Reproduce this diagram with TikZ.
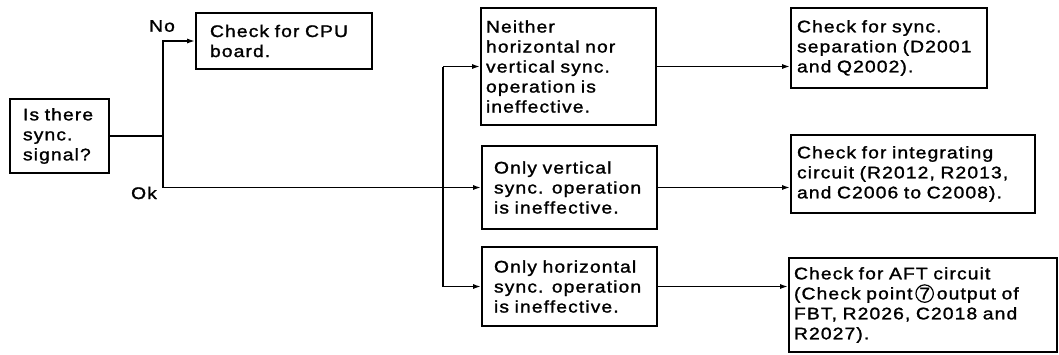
\documentclass[tikz,border=0pt]{standalone}
\usepackage{fontspec}
\setmainfont{Liberation Sans}[FakeStretch=1.15, LetterSpace=6.5, FakeBold=1.4]
\usetikzlibrary{arrows.meta}

% small circled figure used inside a text line
\newcommand{\circfig}[1]{\tikz[baseline=(cf.base)]\node[draw,circle,line width=1.2pt,inner sep=0.6pt,minimum size=17pt] (cf) {#1};}

\tikzset{
  flowbox/.style={draw, line width=1.6pt, align=left, inner ysep=1pt,
    font=\fontsize{16.8}{20}\selectfont},
  lbl/.style={font=\fontsize{16.8}{20}\selectfont, inner sep=0pt},
  link/.style={line width=1.6pt},
  arr/.style={line width=1.6pt, -{Latex[length=8pt,width=5pt]}},
}

\begin{document}
\begin{tikzpicture}[x=1pt,y=-1pt]
\useasboundingbox (0,0) rectangle (1059,354);

% question box
\node[flowbox, minimum width=99pt, minimum height=74pt, inner xsep=13pt, text width=73pt]
  (q) at (59.5,136) {Is there\\sync.\\signal?};

% "No" branch
\node[flowbox, minimum width=176pt, minimum height=56pt, inner xsep=14pt, text width=148pt]
  (cpu) at (284,41) {Check for CPU\\board.};

% symptom boxes
\node[flowbox, minimum width=175pt, minimum height=117pt, inner xsep=5pt, text width=165pt]
  (b1) at (568.5,66.5) {Neither\\horizontal nor\\vertical sync.\\operation is\\ineffective.};
\node[flowbox, minimum width=175pt, minimum height=83pt, inner xsep=12pt, text width=151pt]
  (b2) at (569.5,187.5) {Only vertical\\sync. operation\\is ineffective.};
\node[flowbox, minimum width=175pt, minimum height=79pt, inner xsep=12pt, text width=151pt]
  (b3) at (569.5,286.5) {Only horizontal\\sync. operation\\is ineffective.};

% check boxes
\node[flowbox, minimum width=196pt, minimum height=80pt, inner xsep=6pt, text width=184pt]
  (b4) at (889,48) {Check for sync.\\separation (D2001\\and Q2002).};
\node[flowbox, minimum width=244pt, minimum height=78pt, inner xsep=6pt, text width=232pt]
  (b5) at (913,174) {Check for integrating\\circuit (R2012, R2013,\\and C2006 to C2008).};
\node[flowbox, minimum width=268pt, minimum height=94pt, inner xsep=5pt, text width=258pt]
  (b6) at (923,305) {Check for AFT circuit\\(Check point\,\circfig{7}\,output of\\FBT, R2026, C2018 and\\R2027).};

% junctions
\coordinate (split) at (163,136);
\coordinate (bus) at (443,187.5);

% branch labels
\node[lbl] (no) at (162,26) {No};
\node[lbl] (ok) at (144,193) {Ok};

% connectors
\draw[link] (q.east) -- (split);
\draw[arr] (split) |- (cpu.west);
\draw[arr] (split) |- (b2.west);
\draw[link] (bus |- b1.west) -- (bus |- b3.west);
\draw[arr] (bus |- b1.west) -- (b1.west);
\draw[arr] (bus |- b3.west) -- (b3.west);
\draw[arr] (b1.east) -- (b1.east -| b4.west);
\draw[arr] (b2.east) -- (b2.east -| b5.west);
\draw[arr] (b3.east) -- (b3.east -| b6.west);
\end{tikzpicture}
\end{document}
